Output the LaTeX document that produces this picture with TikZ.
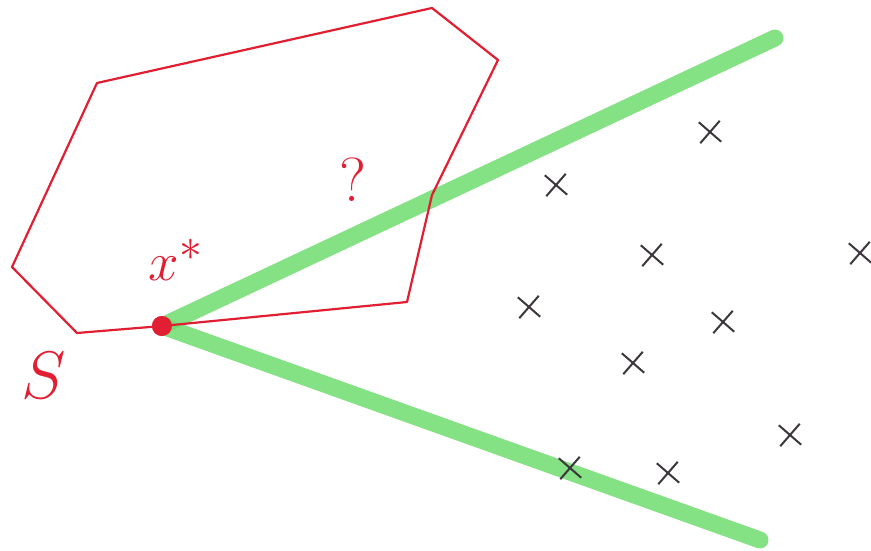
\documentclass[tikz,border=0pt]{standalone}
\usetikzlibrary{shapes.misc}
\definecolor{pen}{RGB}{225,30,50}
\definecolor{marker}{RGB}{110,220,110}
\definecolor{ink}{RGB}{60,55,60}
\tikzset{
  x=1pt, y=-1pt,
  redline/.style={draw=pen, line width=2.2pt, line join=round},
  greenray/.style={draw=marker, line width=17pt, opacity=0.85, line cap=round},
  xmark/.style={cross out, draw=ink, line width=2pt, minimum size=19pt, inner sep=0pt, rotate=4},
  redlabel/.style={text=pen, inner sep=0pt, font=\Huge}
}
\begin{document}
\begin{tikzpicture}
\useasboundingbox (0,0) rectangle (871,551);
% green rays
\coordinate (r1) at (775,38);
\coordinate (r2) at (760,540);
\node[circle, fill=pen, minimum size=20pt, inner sep=0pt] (xs) at (162,326) {};
\draw[greenray] (xs.center) -- (r1);
\draw[greenray] (xs.center) -- (r2);
% polygon S
\coordinate (p1) at (97,83);
\coordinate (p2) at (432,8);
\coordinate (p3) at (498,60);
\coordinate (p4) at (432,195);
\coordinate (p5) at (407,302);
\coordinate (p6) at (77,333);
\coordinate (p7) at (12,267);
\draw[redline] (xs.center) -- (p5) -- (p4) -- (p3) -- (p2) -- (p1) -- (p7) -- (p6) -- cycle;
\node[circle, fill=pen, minimum size=20pt, inner sep=0pt] at (xs) {};
% labels
\node[redlabel, scale=2.2] (xl) at (176,260) {$x^{*}$};
\node[redlabel, scale=2.5] (q) at (353,180) {?};
\node[redlabel, scale=2.7] (S) at (44,376) {$S$};
% crosses
\node[xmark] (c1) at (710,132) {};
\node[xmark] (c2) at (556,185) {};
\node[xmark] (c3) at (652,255) {};
\node[xmark] (c4) at (860,253) {};
\node[xmark] (c5) at (529,307) {};
\node[xmark] (c6) at (723,322) {};
\node[xmark] (c7) at (633,363) {};
\node[xmark] (c8) at (790,435) {};
\node[xmark] (c9) at (570,468) {};
\node[xmark] (c10) at (668,473) {};
\end{tikzpicture}
\end{document}
